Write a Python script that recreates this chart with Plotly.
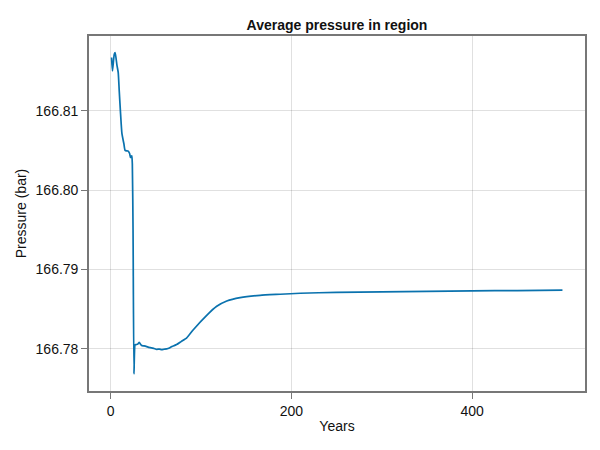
import plotly.graph_objects as go

# values
years = [
    1, 2, 4, 5, 7, 8.4, 9.5, 11, 12.5, 14.7, 16, 19.4, 21, 22, 23.4, 24, 24.8,
    25.8, 27, 28, 30, 31.7, 33, 34.3, 37, 39.9, 42, 45.4, 48, 51, 54, 56.5,
    59, 62, 65, 67.6, 70, 73, 78, 84.2, 91.5, 106.3, 117.4, 128.5, 143.3,
    165.4, 187.6, 209.8, 250, 300, 350, 400, 450, 500,
]
pressure = [
    166.8167, 166.8150, 166.8171, 166.8173, 166.8157, 166.8148, 166.8125,
    166.8096, 166.8071, 166.8058, 166.8050, 166.8049, 166.8046, 166.8041,
    166.8043, 166.8033, 166.7949, 166.77684, 166.7805, 166.78054, 166.78060,
    166.78083, 166.78060, 166.78042, 166.78038, 166.78029, 166.78020,
    166.78013, 166.78005, 166.77995, 166.77998, 166.77991, 166.77996,
    166.78000, 166.78012, 166.78029, 166.78040, 166.78054, 166.78092,
    166.78139, 166.78242, 166.78423, 166.78537, 166.78604, 166.78646,
    166.78675, 166.78688, 166.78701, 166.78712, 166.78718, 166.78724,
    166.78731, 166.78735, 166.78739,
]
x_ticks = [0, 200, 400]
y_ticks = [166.78, 166.79, 166.80, 166.81]

AXIS_COLOR = "#777777"
GRID_COLOR = "rgba(0,0,0,0.12)"
FONT = "Liberation Sans, Arial, sans-serif"

# the page body keeps its 8px margin, so the figure is 16px smaller than the window
W, H = 584, 434

fig = go.Figure(
    go.Scatter(
        x=years,
        y=pressure,
        mode="lines",
        line=dict(color="#0a72ae", width=1.7, shape="spline", smoothing=0.5),
        showlegend=False,
    )
)

axis_style = dict(
    automargin=False,
    showgrid=True,
    gridcolor=GRID_COLOR,
    gridwidth=1,
    zeroline=False,
    showline=True,
    linecolor=AXIS_COLOR,
    linewidth=1.6,
    mirror=True,
    ticks="outside",
    ticklen=6,
    tickwidth=1.2,
    tickcolor=AXIS_COLOR,
    tickfont=dict(size=14, color="#111111"),
    title_font=dict(size=14, color="#111111"),
)

fig.update_layout(
    width=W,
    height=H,
    margin=dict(l=81, r=7, t=28, b=51, autoexpand=False),
    paper_bgcolor="white",
    plot_bgcolor="white",
    font=dict(family=FONT, color="#111111"),
    title=dict(
        text="<b>Average pressure in region</b>",
        x=0.5,
        xanchor="center",
        xref="paper",
        y=1 - 17 / H,
        yanchor="middle",
        font=dict(size=14, family=FONT),
        automargin=False,
    ),
    xaxis=dict(
        axis_style,
        range=[-23.95, 524.95],
        tickvals=x_ticks,
        ticktext=[str(t) for t in x_ticks],
        title=dict(text="Years", standoff=4),
    ),
    yaxis=dict(
        axis_style,
        range=[166.7747, 166.8194],
        tickvals=y_ticks,
        ticktext=[f"{t:.2f}" for t in y_ticks],
        title=dict(text="Pressure (bar)", standoff=6),
    ),
)

fig.write_html("out.html")
